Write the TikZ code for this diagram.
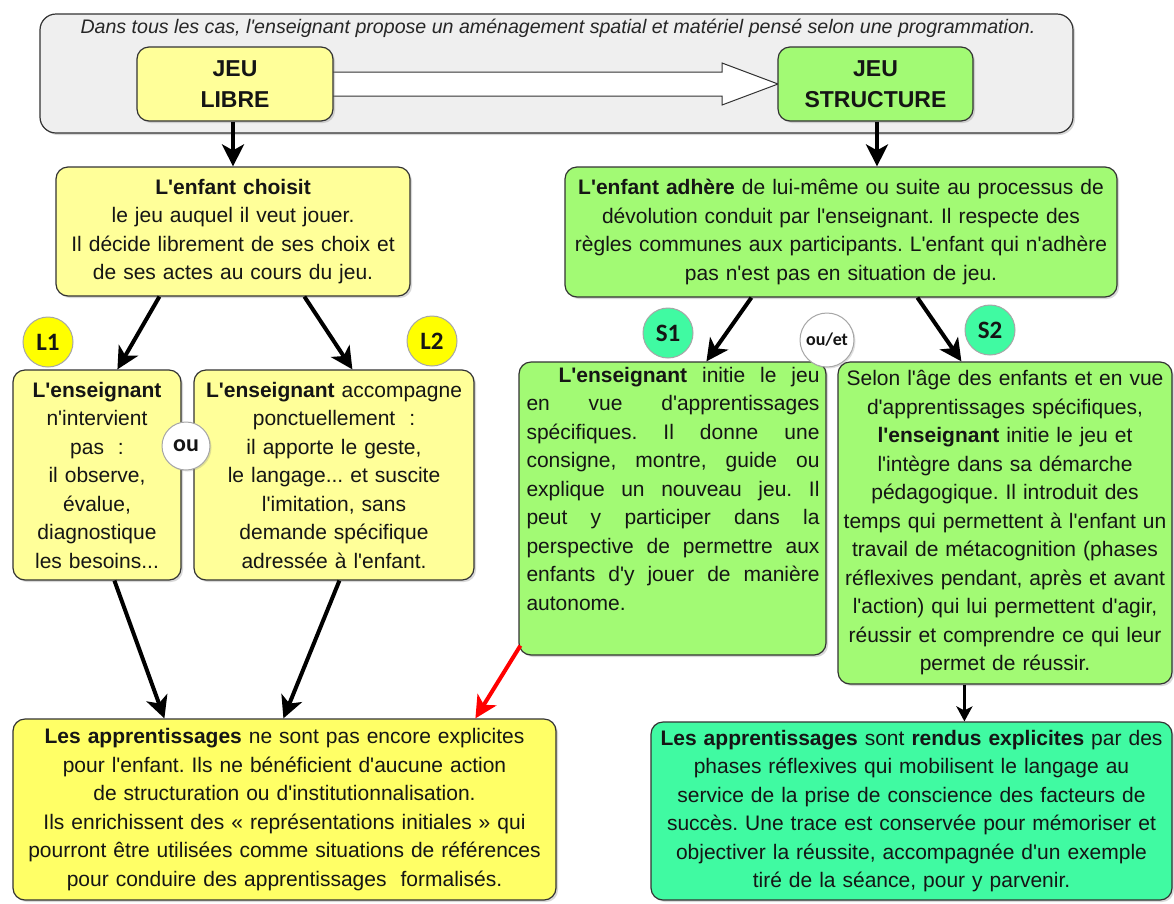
\documentclass[tikz,border=0pt]{standalone}
\usepackage{fontspec}
\setmainfont{Liberation Sans}[Ligatures=TeXOff]
\newfontfamily\calib{Carlito}
\usetikzlibrary{arrows.meta,calc,shadows}
\definecolor{ylight}{HTML}{FFFF99}
\definecolor{ybright}{HTML}{FFFF66}
\definecolor{gbox}{HTML}{A2FA74}
\definecolor{aqua}{HTML}{40FAA2}
\definecolor{bord}{HTML}{333333}
\definecolor{bannerfill}{HTML}{EFEFEF}
\definecolor{txt}{HTML}{151515}
\definecolor{circyel}{HTML}{FFFF00}
\frenchspacing
\newcommand\jline[1]{\makebox[293pt][s]{\spaceskip=0.28em plus 4em\relax #1}}
\begin{document}
\begin{tikzpicture}[x=1pt,y=-1pt,
  box/.style={draw=bord,line width=1.2pt,rounded corners=12pt,inner sep=0pt,align=center,text=txt,
    font=\fontsize{21}{28.5}\selectfont,
    drop shadow={shadow xshift=2pt,shadow yshift=-2pt,opacity=0.3}},
  plain/.style={inner sep=0pt,text=txt,font=\fontsize{21}{28.5}\selectfont},
  tag/.style={circle,draw=black!35,line width=1pt,minimum size=50pt,inner sep=0pt,
    font=\calib\bfseries\fontsize{25}{25}\selectfont,text=txt},
  arr/.style={line width=4pt,draw=black,-{Stealth[length=22pt,width=22pt,inset=6pt]}},
  jeu/.style={box,minimum height=74pt,text width=190pt,font=\bfseries\fontsize{23}{30.5}\selectfont},
]
\useasboundingbox (0,0) rectangle (1174,903);
\fill[white] (0,0) rectangle (1174,903);

% banner
\node[draw=bord,line width=1.2pt,rounded corners=16pt,fill=bannerfill,minimum width=1033pt,minimum height=119pt,
  drop shadow={shadow xshift=2pt,shadow yshift=-2pt,opacity=0.3}] (banner) at (556.5,73.5) {};
\node[inner sep=0pt,text=black!85,font=\itshape\fontsize{19.6}{22}\selectfont] (bannertxt) at (558,28)
  {Dans tous les cas, l'enseignant propose un aménagement spatial et matériel pensé selon une programmation.};

% hollow arrow between the two game boxes
\coordinate (jle) at (333,84);
\coordinate (jsw) at (778,84);
\draw[draw=bord,line width=1pt,fill=white]
  ($(jle)+(0,-12)$) -- ($(jsw)+(-56,-12)$) -- ($(jsw)+(-56,-21)$) -- (jsw)
  -- ($(jsw)+(-56,21)$) -- ($(jsw)+(-56,12)$) -- ($(jle)+(0,12)$);

% top boxes
\node[jeu,fill=ylight,minimum width=196pt] (jl) at (235,84) {JEU\\LIBRE};
\node[jeu,fill=gbox,minimum width=195pt] (js) at (875.5,84) {JEU\\STRUCTURE};

% second row
\node[box,fill=ylight,minimum width=354pt,minimum height=129pt,text width=348pt] (choisit) at (233,231.5)
  {\textbf{L'enfant choisit}\\le jeu auquel il veut jouer.\\Il décide librement de ses choix et\\de ses actes au cours du jeu.};
\node[box,fill=gbox,minimum width=552pt,minimum height=130pt,text width=548pt] (adhere) at (841,232)
  {\textbf{L'enfant adhère} de lui-même ou suite au processus de\\dévolution conduit par l'enseignant. Il respecte des\\règles communes aux participants. L'enfant qui n'adhère\\pas n'est pas en situation de jeu.};

% third row
\node[box,fill=ylight,minimum width=168pt,minimum height=210pt,text width=165pt] (l1box) at (97,475)
  {\textbf{L'enseignant}\\n'intervient\\pas~~:\\il observe,\\évalue,\\diagnostique\\les besoins...};
\node[box,fill=ylight,minimum width=280pt,minimum height=210pt,text width=276pt] (l2box) at (334,475)
  {\textbf{L'enseignant} accompagne\\ponctuellement~~:\\il apporte le geste,\\le langage... et suscite\\l'imitation, sans\\demande spécifique\\adressée à l'enfant.};
\node[box,fill=gbox,minimum width=307pt,minimum height=293pt] (s1box) at (672.5,508.5) {};
\node[plain,anchor=north,text width=293pt,align=left] (s1txt) at (673,367)
  {\jline{\hspace*{32pt}\textbf{L'enseignant} initie le jeu}\\
   \jline{en vue d'apprentissages}\\
   \jline{spécifiques. Il donne une}\\
   \jline{consigne, montre, guide ou}\\
   \jline{explique un nouveau jeu. Il}\\
   \jline{peut y participer dans la}\\
   \jline{perspective de permettre aux}\\
   \jline{enfants d'y jouer de manière}\\
   autonome.};
\node[box,fill=gbox,minimum width=334pt,minimum height=322pt,text width=332pt] (s2box) at (1005,523)
  {Selon l'âge des enfants et en vue\\d'apprentissages spécifiques,\\\textbf{l'enseignant} initie le jeu et\\l'intègre dans sa démarche\\pédagogique. Il introduit des\\temps qui permettent à l'enfant un\\travail de métacognition (phases\\réflexives pendant, après et avant\\l'action) qui lui permettent d'agir,\\réussir et comprendre ce qui leur\\permet de réussir.};

% bottom row
\node[box,fill=ybright,minimum width=543pt,minimum height=181pt,text width=540pt] (bl) at (284.5,809.5)
  {\textbf{Les apprentissages} ne sont pas encore explicites\\pour l'enfant. Ils ne bénéficient d'aucune action\\de structuration ou d'institutionnalisation.\\Ils enrichissent des « représentations initiales » qui\\pourront être utilisées comme situations de références\\pour conduire des apprentissages~ formalisés.};
\node[box,fill=aqua,minimum width=521pt,minimum height=178pt,text width=519pt] (br) at (911.5,811)
  {\textbf{Les apprentissages} sont \textbf{rendus explicites} par des\\phases réflexives qui mobilisent le langage au\\service de la prise de conscience des facteurs de\\succès. Une trace est conservée pour mémoriser et\\objectiver la réussite, accompagnée d'un exemple\\tiré de la séance, pour y parvenir.};

% tags
\node[tag,fill=circyel] (L1) at (48,342) {L1};
\node[tag,fill=circyel] (L2) at (432,341) {L2};
\node[tag,fill=aqua] (S1) at (668,333) {S1};
\node[tag,fill=aqua] (S2) at (990,330) {S2};
\node[tag,fill=white,minimum size=48pt,font=\calib\bfseries\fontsize{24}{24}\selectfont,
  drop shadow={shadow xshift=1.5pt,shadow yshift=-1.5pt,opacity=0.25}] (ou) at (186,446) {ou};
\node[tag,fill=white,minimum size=54pt,font=\calib\bfseries\fontsize{18}{18}\selectfont,
  drop shadow={shadow xshift=1.5pt,shadow yshift=-1.5pt,opacity=0.25}] (ouet) at (827,340) {ou/et};

% arrows
\draw[arr] ($(jl.south)+(-2,0)$) -- (choisit.north);
\draw[arr] ($(js.south)+(1.5,0)$) -- ($(adhere.north)+(36,0)$);
\draw[arr] ($(choisit.south west)+(104,0)$) -- ($(l1box.north west)+(105,0)$);
\draw[arr] ($(choisit.south west)+(249,0)$) -- ($(l2box.north west)+(159,0)$);
\draw[arr] ($(adhere.south west)+(187,0)$) -- ($(s1box.north west)+(188,0)$);
\draw[arr] ($(adhere.south west)+(353,0)$) -- ($(s2box.north west)+(124,0)$);
\draw[arr] ($(l1box.south west)+(102,0)$) -- ($(bl.north west)+(152,0)$);
\draw[arr] ($(l2box.south west)+(146,0)$) -- ($(bl.north west)+(271,0)$);
\draw[arr,draw=red] ($(s1box.south west)+(2,-10)$) -- ($(bl.north west)+(463,0)$);
\draw[line width=3.2pt,-{Stealth[length=15pt,width=16pt,inset=4pt]}] ($(s2box.south west)+(127,0)$) -- ($(br.north west)+(314,0)$);
\end{tikzpicture}
\end{document}
